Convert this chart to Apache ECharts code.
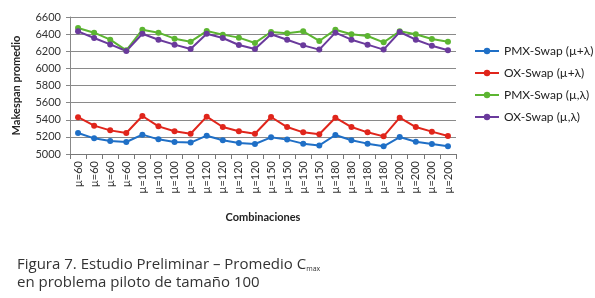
<!DOCTYPE html>
<html>
<head>
<meta charset="utf-8">
<script src="https://cdn.jsdelivr.net/npm/echarts@6/dist/echarts.min.js"></script>
<style>
html,body{margin:0;padding:0;background:#fff;}
#c{width:595px;height:298px;}
</style>
</head>
<body>
<div id="c"></div>
<script>
const categories = [
  'µ=60','µ=60','µ=60','µ=60',
  'µ=100','µ=100','µ=100','µ=100',
  'µ=120','µ=120','µ=120','µ=120',
  'µ=150','µ=150','µ=150','µ=150',
  'µ=180','µ=180','µ=180','µ=180',
  'µ=200','µ=200','µ=200','µ=200'
];
const seriesNames = ['PMX-Swap (µ+λ)','OX-Swap (µ+λ)','PMX-Swap (µ,λ)','OX-Swap (µ,λ)'];
const pmxPlus = [5245,5183,5152,5140, 5226,5171,5140,5133, 5214,5160,5129,5117, 5195,5168,5121,5100, 5222,5160,5121,5090, 5198,5144,5117,5090];
const oxPlus  = [5430,5331,5276,5245, 5444,5323,5265,5237, 5436,5315,5265,5237, 5432,5315,5253,5230, 5424,5315,5253,5206, 5424,5315,5261,5210];
const pmxComma = [6472,6417,6335,6211, 6452,6417,6347,6312, 6436,6394,6359,6297, 6425,6410,6433,6320, 6452,6398,6378,6304, 6433,6398,6343,6312];
const oxComma  = [6433,6355,6280,6203, 6405,6335,6277,6226, 6405,6355,6273,6226, 6398,6335,6269,6219, 6417,6335,6277,6219, 6425,6335,6265,6211];
const yTicks = {min:5000, max:6600, interval:200};
const colors = ['#1f6fc6','#e0251b','#5cb531','#6a3a9c'];

const dataSets = [pmxPlus, oxPlus, pmxComma, oxComma];
const chart = echarts.init(document.getElementById('c'), null, {renderer:'canvas'});
const font = 'Lato, "Open Sans", sans-serif';
const capFont = '"Open Sans", sans-serif';
chart.setOption({
  animation:false,
  backgroundColor:'#fff',
  color: colors,
  grid:{left:70, right:139, top:17, bottom:144},
  legend:{
    orient:'vertical', left:469, top:40, itemWidth:24, itemHeight:8, itemGap:10,
    textStyle:{fontFamily:font, fontSize:12, color:'#222'},
    data: seriesNames
  },
  xAxis:{
    type:'category', data:categories, boundaryGap:true,
    name:'Combinaciones', nameLocation:'middle', nameGap:58,
    nameTextStyle:{fontFamily:font, fontSize:11, fontWeight:'bold', color:'#222'},
    axisLine:{lineStyle:{color:'#777', width:1}},
    axisTick:{show:true, interval:0, length:5, lineStyle:{color:'#777'}},
    axisLabel:{interval:0, rotate:90, fontFamily:font, fontSize:11, color:'#333', margin:7}
  },
  yAxis:{
    type:'value', min:yTicks.min, max:yTicks.max, interval:yTicks.interval,
    name:'Makespan promedio', nameLocation:'middle', nameGap:48,
    nameTextStyle:{fontFamily:font, fontSize:11, fontWeight:'bold', color:'#222'},
    axisLine:{show:true, lineStyle:{color:'#888', width:1}},
    axisTick:{show:true, length:4, lineStyle:{color:'#888'}},
    splitLine:{lineStyle:{color:'#8a8a8a', width:1}},
    axisLabel:{fontFamily:font, fontSize:11, color:'#333', margin:9, formatter:(v)=>String(v)}
  },
  series: seriesNames.map((n,i)=>({
    name:n, type:'line', data:dataSets[i],
    symbol:'circle', symbolSize:6,
    lineStyle:{width:2, color:colors[i]},
    itemStyle:{color:colors[i]}
  })),
  graphic:[
    {type:'text', left:17, top:257, style:{
      text:'{a|Figura 7. Estudio Preliminar – Promedio C}{s|max}',
      rich:{
        a:{fontFamily:capFont, fontSize:15, fill:'#333', verticalAlign:'bottom'},
        s:{fontFamily:capFont, fontSize:7, fill:'#333', verticalAlign:'bottom'}
      }
    }},
    {type:'text', left:17, top:275, style:{
      text:'en problema piloto de tamaño 100',
      fontFamily:capFont, fontSize:15, fill:'#333'
    }}
  ]
});
</script>
</body>
</html>
